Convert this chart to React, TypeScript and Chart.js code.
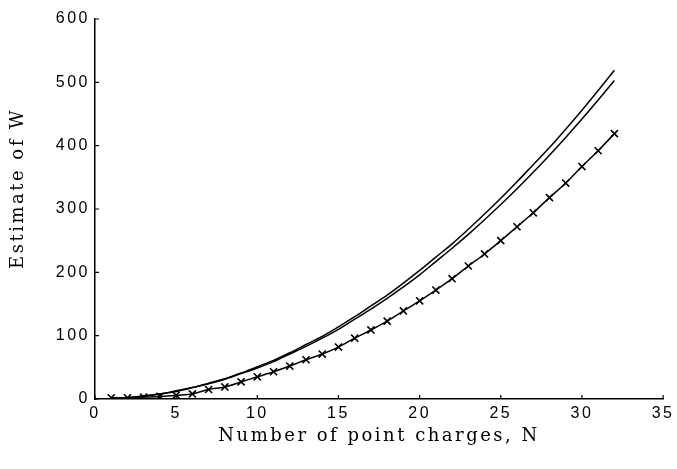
import React, { useEffect, useRef } from "react";
import { Chart, registerables } from "chart.js";

Chart.register(...registerables);

// Number of point charges N
const nValues = [
  1, 2, 3, 4, 5, 6, 7, 8, 9, 10, 11, 12, 13, 14, 15, 16,
  17, 18, 19, 20, 21, 22, 23, 24, 25, 26, 27, 28, 29, 30, 31, 32,
];

// Upper smooth curve
const upperCurve = [
  1, 2, 5, 8, 13, 18, 25, 32, 41, 51, 61, 73, 86, 99, 114, 130,
  147, 164, 183, 203, 224, 245, 268, 292, 317, 343, 370, 397, 426, 456, 487, 519,
];

// Second smooth curve
const middleCurve = [
  0, 2, 4, 8, 12, 18, 24, 31, 40, 49, 59, 71, 83, 96, 110, 126,
  142, 159, 177, 196, 217, 238, 260, 283, 307, 332, 358, 385, 413, 442, 472, 503,
];

// Lower curve with x markers
const markedCurve = [
  2, 2, 3, 4, 6, 8, 15, 19, 27, 35, 43, 52, 62, 71, 82, 96,
  109, 123, 139, 155, 172, 190, 210, 229, 250, 272, 294, 318, 341, 367, 392, 419,
];

const xTickStep = 5;
const yTickStep = 100;

const toPoints = (ys: number[]) => nValues.map((n, i) => ({ x: n, y: ys[i] }));

const inwardTicks = {
  id: "inwardTicks",
  beforeDraw(chart: any) {
    chart.ctx.letterSpacing = "2.5px";
  },
  afterDraw(chart: any) {
    const ctx = chart.ctx;
    const xs = chart.scales.x;
    const ys = chart.scales.y;
    const { left, bottom } = chart.chartArea;
    ctx.save();
    ctx.strokeStyle = "#000";
    ctx.lineWidth = 1.2;
    ctx.beginPath();
    xs.ticks.forEach((t: any) => {
      const px = xs.getPixelForValue(t.value);
      ctx.moveTo(px, bottom);
      ctx.lineTo(px, bottom - 4);
    });
    ys.ticks.forEach((t: any) => {
      const py = ys.getPixelForValue(t.value);
      ctx.moveTo(left, py);
      ctx.lineTo(left + 4, py);
    });
    ctx.stroke();
    ctx.restore();
  },
};

export default function App() {
  const ref = useRef<HTMLCanvasElement>(null);

  useEffect(() => {
    document.body.style.margin = "0";
    const canvas = ref.current;
    if (!canvas) return;
    const tickFont = { family: "'Liberation Sans', Arial, sans-serif", size: 16 };
    const titleFont = { family: "'DejaVu Serif', serif", size: 18 };
    const chart = new Chart(canvas, {
      type: "line",
      data: {
        datasets: [
          {
            data: toPoints(upperCurve),
            borderColor: "#000",
            borderWidth: 1.5,
            pointRadius: 0,
            cubicInterpolationMode: "monotone",
            fill: false,
          },
          {
            data: toPoints(middleCurve),
            borderColor: "#000",
            borderWidth: 1.5,
            pointRadius: 0,
            cubicInterpolationMode: "monotone",
            fill: false,
          },
          {
            data: toPoints(markedCurve),
            borderColor: "#000",
            borderWidth: 1.5,
            pointStyle: "crossRot",
            pointRadius: 5,
            pointBorderWidth: 1.6,
            pointBorderColor: "#000",
            cubicInterpolationMode: "monotone",
            fill: false,
          },
        ],
      },
      options: {
        responsive: false,
        animation: false,
        layout: { padding: { left: 0, right: 13, top: 19, bottom: 0 } },
        plugins: { legend: { display: false }, tooltip: { enabled: false } },
        scales: {
          x: {
            type: "linear",
            min: 0,
            max: 35,
            ticks: { stepSize: xTickStep, color: "#000", font: tickFont, padding: 5 },
            grid: { drawOnChartArea: false, drawTicks: false },
            border: { color: "#000", width: 1.5 },
            title: {
              display: true,
              text: "Number of point charges, N",
              color: "#000",
              font: titleFont,
              padding: { top: 0, bottom: 22 },
            },
            afterFit(s: any) {
              s.height = 70;
            },
          },
          y: {
            type: "linear",
            min: 0,
            max: 600,
            ticks: { stepSize: yTickStep, color: "#000", font: tickFont, padding: 5 },
            grid: { drawOnChartArea: false, drawTicks: false },
            border: { color: "#000", width: 1.5 },
            title: {
              display: true,
              text: "     Estimate of W",
              color: "#000",
              font: titleFont,
              padding: { top: 8, bottom: 0 },
            },
            afterFit(s: any) {
              s.width = 95;
            },
          },
        },
      },
      plugins: [inwardTicks],
    });
    return () => chart.destroy();
  }, []);

  return (
    <div style={{ width: 677, height: 469, background: "#fff" }}>
      <canvas ref={ref} width={677} height={469} style={{ display: "block" }} />
    </div>
  );
}
